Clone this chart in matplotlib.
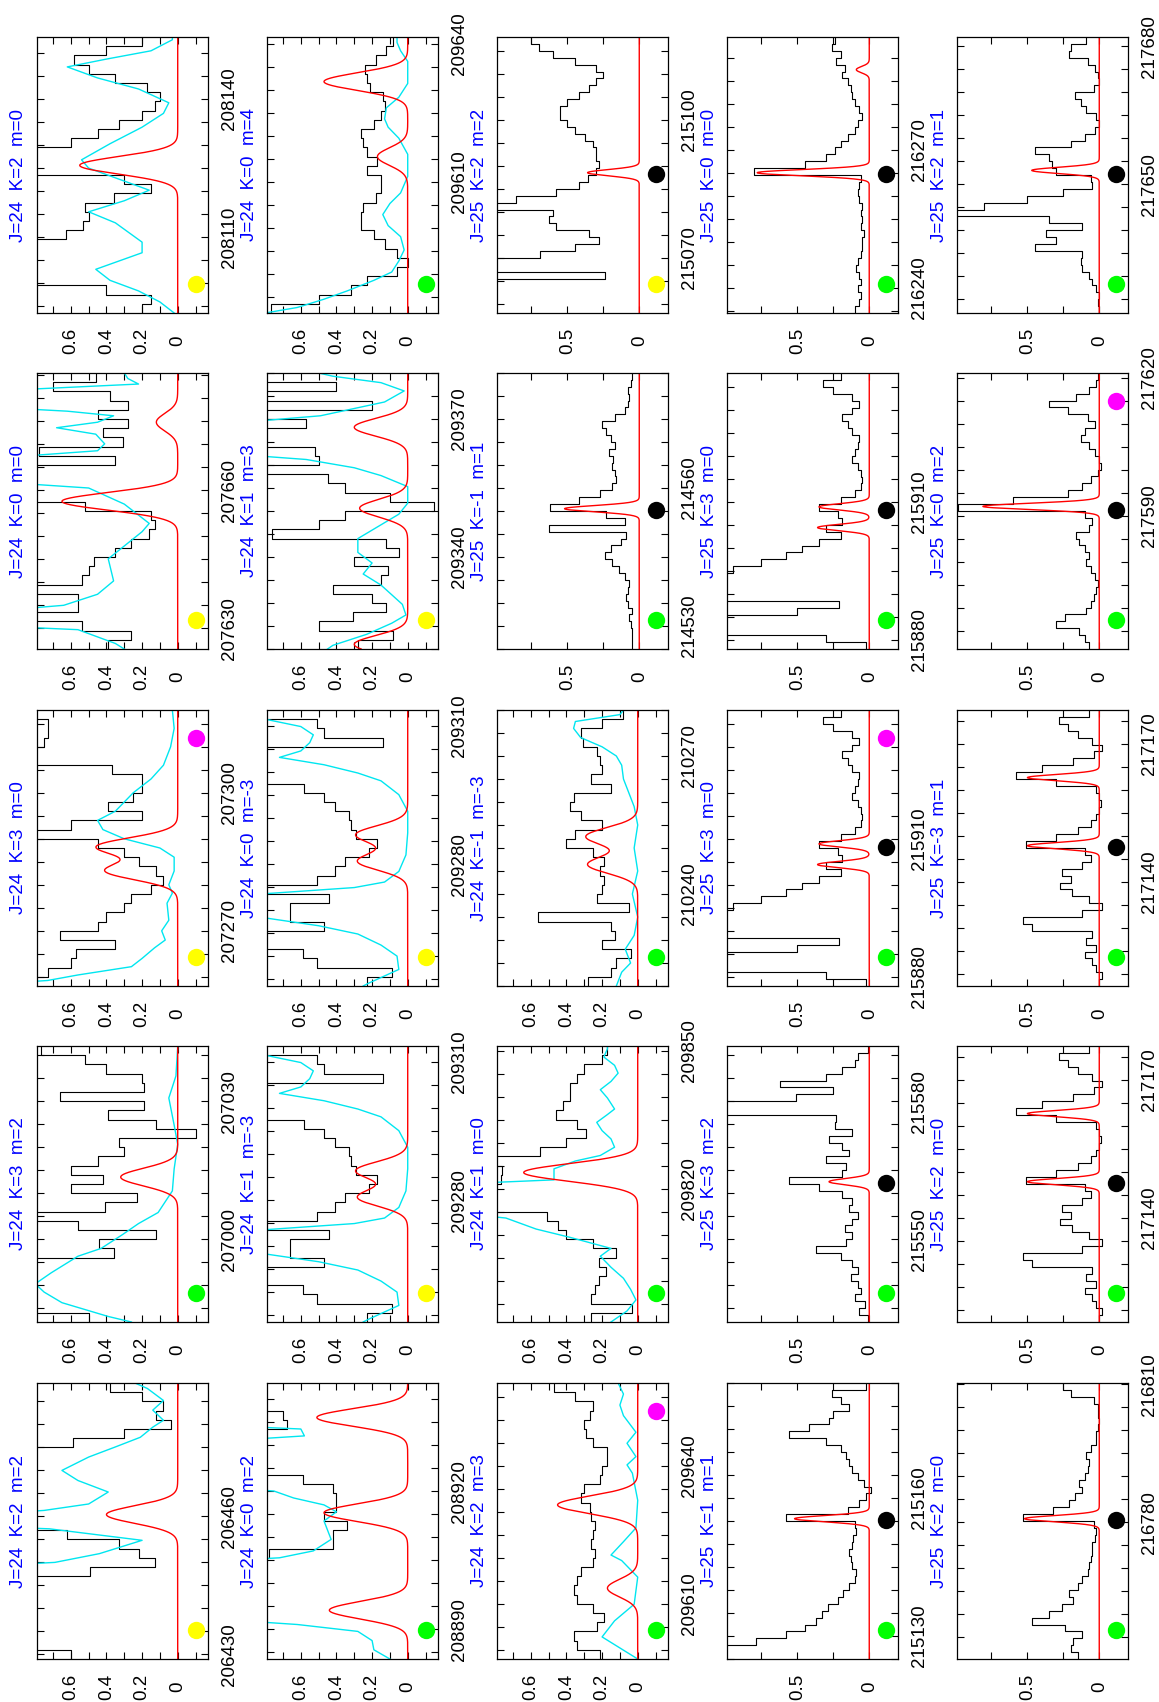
import numpy as np
import matplotlib
matplotlib.use('Agg')
import matplotlib.pyplot as plt
from matplotlib import font_manager
from matplotlib.ticker import FixedLocator, FuncFormatter

_have = {f.name for f in font_manager.fontManager.ttflist}
if 'Liberation Sans Narrow' in _have:
    FONT, FS = 'Liberation Sans Narrow', 16.5
else:
    FONT, FS = 'Liberation Sans', 13.5
plt.rcParams['font.family'] = FONT

# ---------------- spectra: offsets are MHz from the panel centre ----------------
# J=24 black spectra: 2 MHz channels from -30 to +30; J=25: 1.5 MHz channels
t11 = 'J=24  K=2  m=2'
fc11 = 206459.0
blk11 = [0.6, 1.2, 1.2, 1.2, 1.2, 1.2, 1.2, 1.2, 1.2, 0.49, 0.13, 0.22, 0.33, 0.62, 1.2,
         1.2, 1.2, 1.2, 1.2, 1.2, 1.2, 1.2, 1.2, 0.59, 0.30, 0.04, 0.12, 0.08, 0.2, 0.38]
cyo11 = [-30, -10.0, -9.0, -7.1, -4.2, -1.7, -1.0, 1.2, 2.3, 3.7, 6.3, 8.8, 11.0, 13.9, 16.1,
         18.2, 20.4, 21.9, 24.1, 26.2, 28.8, 30.0]
cyv11 = [1.2, 1.2, 0.69, 0.44, 0.20, 0.72, 1.2, 1.2, 0.75, 0.50, 0.39, 0.56, 0.65, 0.50, 0.35,
         0.21, 0.14, 0.08, 0.14, 0.08, 0.17, 0.24]
red11 = [(1.4, 0.40)]
mk11 = [(-23.6, 'yellow')]

t12 = 'J=24  K=3  m=2'
fc12 = 207012.0
blk12 = [0.5, 1.2, 1.2, 1.2, 1.2, 1.2, 1.2, 0.36, 0.44, 0.12, 0.56, 1.2, 0.41, 0.23, 0.60,
         0.42, 0.6, 0.45, 0.30, 0.33, -0.10, 0.12, 0.39, 0.19, 0.66, 0.19, 0.2, 0.4, 0.52, 0.77]
cyo12 = [-30, -28.8, -25.8, -23.5, -21.7, -19.3, -15.7, -14.0, -11.0, -8.6, -6.2, -1.5, 3.3,
         8.6, 12.8, 18.7, 23.5, 30]
cyv12 = [0.26, 0.39, 0.65, 0.75, 0.80, 0.71, 0.56, 0.43, 0.31, 0.22, 0.11, 0.03, 0.02, 0.0,
         0.02, 0.05, 0.01, 0.0]
red12 = [(1.5, 0.32)]
mk12 = [(-23.6, 'lime')]

t13 = 'J=24  K=3  m=0'
fc13 = 207288.0
blk13 = [1.2, 0.73, 0.6, 0.57, 0.35, 0.66, 0.45, 0.4, 0.3, 0.26, 0.15, 0.08, 0.12, 0.22, 0.3,
         0.45, 1.2, 0.6, 0.2, 0.39, 0.25, 0.2, 0.2, 0.37, 1.2, 1.2, 0.75, 0.73, 0.73, 1.2]
cyo13 = [-30, -28.8, -27.6, -25.8, -24, -21.7, -20, -18, -15.7, -12, -9.8, -8, -5, -2, 0, 2, 4,
         6, 8, 10, 12, 15, 18, 22, 26, 30]
cyv13 = [1.2, 0.73, 0.56, 0.26, 0.2, 0.13, 0.07, 0.09, 0.05, 0.06, 0.03, 0.05, 0.02, 0.02, 0.1,
         0.3, 0.42, 0.45, 0.35, 0.3, 0.25, 0.15, 0.08, 0.04, 0.02, 0.03]
red13 = [(-5.0, 0.40), (0.3, 0.45)]
mk13 = [(-23.6, 'yellow'), (24.0, 'magenta')]

t14 = 'J=24  K=0  m=0'
fc14 = 207655.5
blk14 = [0.39, 0.26, 0.54, 1.2, 0.56, 0.56, 1.2, 0.54, 0.50, 0.47, 0.35, 0.26, 0.16, 0.13, 0.15,
         0.52, 1.2, 1.2, 1.2, 1.2, 0.35, 0.78, 0.31, 0.42, 0.28, 0.45, 0.28, 0.38, 0.70, 0.46]
cyo14 = [-30, -28.8, -25.8, -24.7, -22.3, -20.5, -18.1, -15.2, -10.4, -4.5, -2.7, 1.5, 5.0, 6.8,
         11.0, 13.1, 14.6, 16.7, 18.1, 19.3, 20.7, 21.7, 22.9, 25.8, 27.6, 28.8, 30]
cyv14 = [0.3, 0.35, 0.56, 1.2, 1.2, 0.64, 0.45, 0.36, 0.39, 0.2, 0.16, 0.3, 0.5, 1.2, 1.2, 0.45,
         0.41, 0.46, 0.68, 0.45, 0.36, 0.62, 1.2, 1.2, 0.22, 0.28, 0.3]
red14 = [(2.1, 0.65), (19.3, 0.12)]
mk14 = [(-23.6, 'yellow')]

t15 = 'J=24  K=2  m=0'
fc15 = 208123.5
blk15 = [0.2, 0.15, 0.4, 1.2, 1.2, 1.2, 1.2, 1.2, 0.63, 0.53, 0.5, 0.52, 0.36, 0.15, 0.3,
         1.2, 1.2, 1.2, 0.6, 0.45, 0.33, 0.2, 0.13, 0.1, 0.17, 0.35, 0.5, 0.58, 0.4, 0.2]
cyo15 = [-30, -27.6, -25.2, -22.9, -20.5, -16.9, -14.6, -10.4, -8.0, -5.6, -3.3, -0.9, 1.5, 3.3,
         6.8, 10.4, 13.4, 15.7, 18.7, 21.1, 23.5, 25.2, 27.0, 29.4, 30]
cyv15 = [0.02, 0.1, 0.22, 0.38, 0.46, 0.2, 0.2, 0.35, 0.5, 0.3, 0.16, 0.33, 0.5, 0.54, 0.38, 0.2,
         0.08, 0.05, 0.22, 0.45, 0.62, 0.4, 0.15, 0.03, 0.03]
red15 = [(2.1, 0.55)]
mk15 = [(-23.6, 'yellow')]

t21 = 'J=24  K=0  m=2'
fc21 = 208913.5
blk21 = [1.2, 1.2, 1.2, 1.2, 1.2, 1.2, 1.2, 1.2, 1.2, 1.2, 1.2, 0.78, 0.42, 0.42, 0.34,
         0.47, 0.4, 0.4, 0.42, 0.59, 1.2, 1.2, 1.2, 1.2, 1.2, 0.68, 0.7, 1.2, 1.2, 1.2]
cyo21 = [-30, -28, -26, -24, -22.5, -21, -9, -8, -6.5, -4, -2, 0, 2, 3.5, 5, 6.5, 8, 17, 18.5,
         20, 21, 30]
cyv21 = [0.1, 0.19, 0.2, 0.28, 0.62, 1.2, 1.2, 0.72, 0.53, 0.43, 0.45, 0.47, 0.4, 0.47, 0.64,
         0.75, 1.2, 1.2, 0.58, 0.6, 1.2, 1.2]
red21 = [(-19.4, 0.44), (1.8, 0.47), (22.5, 0.51)]
mk21 = [(-23.6, 'lime')]

t22 = 'J=24  K=1  m=-3'
t23 = 'J=24  K=0  m=-3'
fc22 = 209283.5
blk22 = [0.23, 0.09, 0.51, 0.59, 1.2, 1.2, 0.47, 0.66, 0.66, 0.44, 1.2, 0.51, 0.41, 0.35, 0.22,
         0.17, 0.29, 0.32, 0.33, 0.41, 0.47, 0.58, 1.2, 1.2, 1.2, 1.2, 0.14, 0.47, 0.51, 1.2]
cyo22 = [-30, -29.4, -26.4, -23.5, -21.1, -18.7, -16.9, -15.2, -14.0, -11.0, -8.6, -7.4, -5.1,
         -1.5, 3.3, 8.0, 11.6, 14.6, 16.3, 18.1, 19.7, 21.1, 22.9, 24.6, 26.4, 28.0, 29.4, 30]
cyv22 = [0.25, 0.22, 0.05, 0.06, 0.15, 0.28, 0.5, 0.8, 1.2, 1.2, 0.3, 0.13, 0.05, 0.01, 0.0, 0.0,
         0.05, 0.15, 0.28, 0.47, 0.72, 0.6, 0.55, 0.53, 0.6, 0.8, 1.2, 1.2]
red22 = [(-2.9, 0.28), (2.9, 0.29)]
mk22 = [(-23.6, 'yellow')]

t24 = 'J=24  K=1  m=3'
fc24 = 209350.0
blk24 = [0.28, 0.08, 0.5, 0.31, 0.12, 0.2, 0.42, 0.15, 0.11, 0.3, 0.05, 0.12, 0.76, 0.5, 0.35,
         -0.15, 0.1, 0.35, 0.45, 1.2, 0.5, 0.52, 1.2, 1.2, 0.57, 1.2, 0.2, 1.2, 0.4, 1.2]
cyo24 = [-30, -29.2, -26.8, -24.4, -22.6, -20.3, -16.1, -13.7, -11.3, -9.0, -6.0, -3.0, -0.7,
         1.7, 5.3, 7.7, 9.4, 11.2, 13.0, 18.4, 20.7, 23.7, 26.1, 27.9, 29.3, 30]
cyv24 = [0.45, 0.42, 0.23, 0.09, 0.01, 0.03, 0.15, 0.25, 0.2, 0.28, 0.28, 0.15, 0.05, 0.0, 0.0,
         0.15, 0.3, 0.57, 1.2, 1.2, 0.49, 0.13, 0.02, 0.15, 0.42, 0.5]
red24 = [(-29.0, 0.3), (0.6, 0.27), (18.2, 0.30)]
mk24 = [(-23.6, 'yellow')]

t25 = 'J=24  K=0  m=4'
fc25 = 209611.5
blk25 = [0.77, 0.5, 0.32, 0.23, 0.06, 0.0, 0.06, 0.13, 0.19, 0.26, 0.26, 0.25, 0.18, 0.15, 0.15,
         0.23, 0.17, 0.23, 0.25, 0.26, 0.19, 0.15, 0.13, 0.14, 0.21, 0.23, 0.24, 0.18, 0.12, 0.08]
cyo25 = [-30, -28.8, -27.0, -25.2, -22.9, -21.1, -18.7, -16.3, -13.4, -11.0, -8.6, -6.2, -3.9,
         -0.3, 4.5, 8.0, 10.4, 12.2, 14.6, 16.9, 19.9, 24.7, 27.0, 28.8, 30]
cyv25 = [0.8, 0.62, 0.47, 0.34, 0.19, 0.09, 0.05, 0.02, 0.04, 0.11, 0.14, 0.1, 0.04, 0.0, 0.0,
         0.05, 0.11, 0.13, 0.12, 0.05, 0.0, 0.0, 0.04, 0.06, 0.06]
red25 = [(4.0, 0.17), (20.3, 0.47)]
mk25 = [(-23.6, 'lime')]

t31 = 'J=24  K=2  m=3'
fc31 = 209628.0
blk31 = [0.21, 0.34, 0.36, 0.23, 0.19, 0.25, 0.34, 0.36, 0.34, 0.32, 0.25, 0.24, 0.26, 0.25,
         0.24, 0.26, 0.27, 0.32, 0.3, 0.21, 0.2, 0.17, 0.17, 0.25, 0.29, 0.3, 0.27, 0.25, 0.35, 0.47]
cyo31 = [-30, -27.6, -25.2, -21.7, -18.1, -12.2, -8.6, -7.4, -4.5, -1.5, 4.5, 10.4, 12.2, 14.0,
         16.9, 19.3, 22.9, 25.2, 27.6, 30]
cyv31 = [0.0, 0.1, 0.2, 0.13, 0.02, 0.0, 0.09, 0.15, 0.08, 0.01, 0.0, 0.03, 0.06, 0.01, 0.06,
         0.01, 0.08, 0.1, 0.08, 0.11]
red31 = [(-14.6, 0.17), (3.5, 0.45)]
mk31 = [(-23.6, 'lime'), (24.0, 'magenta')]

t32 = 'J=24  K=1  m=0'
fc32 = 209821.0
blk32 = [0.26, 0.03, 0.26, 0.24, 0.22, 0.18, 0.22, 0.12, 0.25, 0.4, 0.45, 0.51, 1.2, 1.2, 1.2,
         0.77, 0.76, 1.2, 0.55, 0.4, 0.29, 0.34, 0.46, 0.42, 0.38, 0.38, 0.34, 0.3, 0.2, 0.17]
cyo32 = [-30, -27.6, -25.2, -22.9, -20.5, -18.1, -15.7, -14.0, -11.6, -9.8, -7.4, -5.6, -0.3,
         0.9, 3.3, 5.0, 6.2, 8.0, 9.8, 11.6, 13.4, 15.1, 16.3, 18.7, 20.5, 22.3, 24.1, 25.8,
         27.6, 29.4, 30]
cyv32 = [0.15, 0.06, 0.01, 0.04, 0.08, 0.15, 0.21, 0.15, 0.38, 0.57, 0.74, 1.2, 1.2, 0.47, 0.47,
         0.35, 0.21, 0.13, 0.15, 0.2, 0.23, 0.17, 0.13, 0.17, 0.21, 0.15, 0.11, 0.13, 0.19,
         0.17, 0.17]
red32 = [(2.5, 0.64)]
mk32 = [(-23.6, 'lime')]

t33 = 'J=24  K=-1  m=-3'
fc33 = 210250.0
blk33 = [0.28, 0.15, 0.12, 0.04, 0.2, 0.13, 0.15, 0.56, 0.05, 0.23, 0.2, 0.19, 0.21, 0.19, 0.25,
         0.4, 0.35, 0.2, 0.32, 0.38, 0.36, 0.15, 0.26, 0.2, 0.21, 0.23, 0.31, 0.32, 0.2, 0.08]
cyo33 = [-30, -27, -25, -22, -19, -15, -10, -5, 0, 5, 9, 12, 15, 18, 20, 22, 24, 26, 27.5, 29, 30]
cyv33 = [0.12, 0.09, 0.04, 0.07, 0.02, 0.0, 0.03, 0.0, 0.02, 0.0, 0.02, 0.05, 0.08, 0.09, 0.12,
         0.2, 0.32, 0.36, 0.35, 0.1, 0.08]
red33 = [(-3.6, 0.28), (2.5, 0.29)]
mk33 = [(-23.6, 'lime')]

t34 = 'J=25  K=-1  m=1'
fc34 = 214555.0
blk34 = [0.05, 0.05, 0.05, 0.06, 0.07, 0.05, 0.08, 0.09, 0.08, 0.07, 0.1, 0.14, 0.19, 0.24,
         0.2, 0.13, 0.09, 0.63, 0.1, 0.23, 0.62, 0.42, 0.27, 0.19, 0.16, 0.17, 0.19, 0.18, 0.21,
         0.17, 0.2, 0.23, 0.26, 0.17, 0.1, 0.08, 0.07, 0.08, 0.06, 0.05]
red34 = [(0.5, 0.52)]
mk34 = [(-23.6, 'lime'), (0.3, 'black')]

t35 = 'J=25  K=2  m=2'
fc35 = 215088.0
blk35 = [1.2, 1.2, 1.2, 1.2, 1.2, 0.24, 1.2, 1.2, 0.69, 0.45, 0.28, 0.35, 0.58, 0.63, 0.6,
         1.2, 0.86, 0.58, 0.42, 0.36, 0.3, 0.28, 0.3, 0.3, 0.32, 0.38, 0.45, 0.5, 0.55, 0.55,
         0.5, 0.42, 0.35, 0.3, 0.25, 0.3, 0.45, 0.6, 0.7, 0.75]
red35 = [(0.5, 0.36)]
mk35 = [(-23.6, 'yellow'), (0.3, 'black')]

t41 = 'J=25  K=1  m=1'
fc41 = 215155.0
blk41 = [1.2, 1.2, 0.79, 0.58, 0.45, 0.37, 0.33, 0.29, 0.22, 0.18, 0.14, 0.1, 0.09, 0.12, 0.13,
         0.14, 0.12, 0.11, 0.09, 0.1, 0.58, 0.15, 0.07, 0.02, -0.01, 0.04, 0.08, 0.12, 0.14,
         0.16, 0.2, 0.3, 0.56, 0.42, 0.28, 0.25, 0.14, 0.2, 0.26, 0.02]
red41 = [(0.5, 0.52)]
mk41 = [(-23.6, 'lime'), (0.3, 'black')]

t42 = 'J=25  K=3  m=2'
fc42 = 215562.0
blk42 = [0.01, 0.07, 0.03, 0.1, 0.06, 0.08, 0.13, 0.08, 0.12, 0.2, 0.37, 0.16, 0.12, 0.17,
         0.12, 0.08, 0.14, 0.12, 0.19, 0.35, 0.56, 0.19, 0.16, 0.3, 0.14, 0.19, 0.28, 0.12, 0.24,
         0.23, 1.2, 1.2, 0.51, 0.25, 0.62, 0.3, 0.19, 0.1, 0.08, 0.01]
red42 = [(0.5, 0.28)]
mk42 = [(-23.6, 'lime'), (0.3, 'black')]

t43 = 'J=25  K=3  m=0'
fc43 = 215908.0
blk43 = [0.02, 0.3, 1.2, 1.2, 1.2, 0.5, 0.21, 1.2, 1.2, 1.2, 1.2, 0.95, 0.75, 0.58, 0.47, 0.35,
         0.2, 0.3, 0.19, 0.22, 0.35, 0.2, 0.1, 0.06, 0.05, 0.06, 0.08, 0.12, 0.1, 0.08, 0.07,
         0.12, 0.15, 0.19, 0.12, 0.07, 0.12, 0.25, 0.32, 0.2]
red43 = [(-3.6, 0.36), (0.9, 0.35)]
mk43 = [(-23.6, 'lime'), (0.3, 'black'), (24.0, 'magenta')]
mk44 = [(-23.6, 'lime'), (0.3, 'black')]

t45 = 'J=25  K=0  m=0'
fc45 = 216264.5
blk45 = [0.1, 0.07, 0.06, 0.08, 0.06, 0.07, 0.09, 0.08, 0.06, 0.05, 0.05, 0.04, 0.06, 0.05,
         0.06, 0.05, 0.07, 0.08, 0.07, 0.06, 0.8, 0.45, 0.3, 0.24, 0.2, 0.15, 0.1, 0.08, 0.05,
         0.07, 0.1, 0.12, 0.13, 0.15, 0.19, 0.17, 0.23, 0.2, 0.26, 0.24]
red45 = [(0.5, 0.78), (22.9, 0.09)]
mk45 = [(-23.6, 'lime'), (0.3, 'black')]

t51 = 'J=25  K=2  m=0'
fc51 = 216780.3
blk51 = [0.15, 0.2, 0.18, 0.12, 0.24, 0.47, 0.35, 0.26, 0.18, 0.21, 0.15, 0.12, 0.08, 0.07,
         0.06, 0.05, 0.05, 0.03, 0.02, 0.04, 0.53, 0.32, 0.21, 0.17, 0.12, 0.14, 0.1, 0.08, 0.07,
         0.09, 0.06, 0.02, 0.02, 0.01, 0.0, 0.01, 0.01, 0.04, 0.2, 0.25]
red51 = [(0.5, 0.52)]
mk51 = [(-23.6, 'lime'), (0.3, 'black')]

t52 = 'J=25  K=2  m=0'
t53 = 'J=25  K=-3  m=1'
fc52 = 217147.3
blk52 = [0.0, -0.02, 0.02, 0.05, 0.1, 0.02, 0.09, 0.05, 0.47, 0.53, 0.12, -0.02, 0.07, 0.19,
         0.27, 0.2, 0.26, 0.12, 0.06, 0.1, 0.51, 0.3, 0.15, 0.06, 0.02, 0.0, -0.01, 0.0, 0.02,
         0.3, 0.58, 0.4, 0.18, 0.04, -0.02, 0.05, 0.15, 0.22, 0.28, 0.07]
red52 = [(0.5, 0.5), (15.3, 0.5)]
mk52 = [(-23.6, 'lime'), (0.3, 'black')]

t54 = 'J=25  K=0  m=2'
fc54 = 217591.0
blk54 = [0.07, 0.1, 0.14, 0.3, 0.24, 0.09, 0.06, 0.04, 0.02, 0.01, 0.03, 0.06, 0.09, 0.07, 0.1,
         0.14, 0.16, 0.07, 0.05, 0.1, 0.98, 0.6, 0.22, 0.12, 0.06, 0.01, -0.01, 0.0, 0.03, 0.07,
         0.13, 0.1, 0.03, 0.08, 0.22, 0.35, 0.16, 0.07, 0.02, 0.01]
red54 = [(1.0, 0.81)]
mk54 = [(-23.6, 'lime'), (0.3, 'black'), (24.0, 'magenta')]

t55 = 'J=25  K=2  m=1'
fc55 = 217652.0
blk55 = [0.0, 0.01, 0.0, 0.02, 0.05, 0.07, 0.12, 0.13, 0.12, 0.45, 0.3, 0.37, 0.12, 0.35, 1.2,
         0.8, 0.5, 0.25, 0.05, 0.06, 0.3, 0.33, 0.35, 0.45, 0.2, 0.1, 0.03, 0.0, 0.02, 0.09,
         0.13, 0.17, 0.04, 0.0, 0.01, 0.03, 0.08, 0.21, 0.2, 0.09]
red55 = [(1.0, 0.47)]
mk55 = [(-23.6, 'lime'), (0.3, 'black')]

# (display column, display row from top, title, centre, J=25?, black, cyan offs, cyan, red, markers)
panels = [
    (0, 4, t11, fc11, False, blk11, cyo11, cyv11, red11, mk11),
    (0, 3, t12, fc12, False, blk12, cyo12, cyv12, red12, mk12),
    (0, 2, t13, fc13, False, blk13, cyo13, cyv13, red13, mk13),
    (0, 1, t14, fc14, False, blk14, cyo14, cyv14, red14, mk14),
    (0, 0, t15, fc15, False, blk15, cyo15, cyv15, red15, mk15),
    (1, 4, t21, fc21, False, blk21, cyo21, cyv21, red21, mk21),
    (1, 3, t22, fc22, False, blk22, cyo22, cyv22, red22, mk22),
    (1, 2, t23, fc22, False, blk22, cyo22, cyv22, red22, mk22),
    (1, 1, t24, fc24, False, blk24, cyo24, cyv24, red24, mk24),
    (1, 0, t25, fc25, False, blk25, cyo25, cyv25, red25, mk25),
    (2, 4, t31, fc31, False, blk31, cyo31, cyv31, red31, mk31),
    (2, 3, t32, fc32, False, blk32, cyo32, cyv32, red32, mk32),
    (2, 2, t33, fc33, False, blk33, cyo33, cyv33, red33, mk33),
    (2, 1, t34, fc34, True, blk34, None, None, red34, mk34),
    (2, 0, t35, fc35, True, blk35, None, None, red35, mk35),
    (3, 4, t41, fc41, True, blk41, None, None, red41, mk41),
    (3, 3, t42, fc42, True, blk42, None, None, red42, mk42),
    (3, 2, t43, fc43, True, blk43, None, None, red43, mk43),
    (3, 1, t43, fc43, True, blk43, None, None, red43, mk44),
    (3, 0, t45, fc45, True, blk45, None, None, red45, mk45),
    (4, 4, t51, fc51, True, blk51, None, None, red51, mk51),
    (4, 3, t52, fc52, True, blk52, None, None, red52, mk52),
    (4, 2, t53, fc52, True, blk52, None, None, red52, mk52),
    (4, 1, t54, fc54, True, blk54, None, None, red54, mk54),
    (4, 0, t55, fc55, True, blk55, None, None, red55, mk55),
]

W, H = 1159, 1702
col_left = [37, 267, 497, 727, 957]
row_top = [37, 373, 710, 1046, 1383]
pw, ph = 171, 276
HALF = 30.0

fig = plt.figure(figsize=(W / 100, H / 100), dpi=100)
fig.patch.set_facecolor('white')

freq_fmt = FuncFormatter(lambda v, p: '%d' % round(v))
int_fmt = FuncFormatter(lambda v, p: '0' if abs(v) < 1e-9 else '%g' % v)

for dcol, drow, title, fc, j25, blk, cyo, cyv, red, marks in panels:
    ax = fig.add_axes([col_left[dcol] / W, 1 - (row_top[drow] + ph) / H, pw / W, ph / H])
    lo, hi = fc - HALF, fc + HALF

    # observed spectrum as a histogram along the frequency axis
    vals = np.asarray(blk, float)
    edges = np.linspace(lo, hi, len(vals) + 1)
    ax.plot(np.repeat(vals, 2), np.repeat(edges, 2)[1:-1], color='black', lw=0.8)

    if cyo is not None:
        ax.plot(cyv, fc + np.asarray(cyo), color='#00e6f0', lw=1.0)

    f = np.linspace(lo, hi, 1201)
    fwhm = 1.6 if j25 else 4.5
    model = np.zeros_like(f)
    for off, amp in red:
        model += amp * np.exp(-4 * np.log(2) * (f - fc - off) ** 2 / fwhm ** 2)
    ax.plot(model, f, color='red', lw=1.0)

    xm = -0.115 if j25 else -0.1
    for off, c in marks:
        ax.plot(xm, fc + off, 'o', color=c, ms=12.5, mec='none', clip_on=False)

    if j25:
        ax.set_xlim(0.99, -0.2)
        ax.xaxis.set_major_locator(FixedLocator([0, 0.5]))
        ax.xaxis.set_minor_locator(FixedLocator([0.25, 0.75]))
    else:
        ax.set_xlim(0.79, -0.17)
        ax.xaxis.set_major_locator(FixedLocator([0, 0.2, 0.4, 0.6]))
        ax.xaxis.set_minor_locator(FixedLocator([-0.1, 0.1, 0.3, 0.5, 0.7]))
    ax.xaxis.set_major_formatter(int_fmt)

    ax.set_ylim(lo, hi)
    major = [v for v in np.arange(np.ceil(lo / 30) * 30, hi + 0.01, 30)]
    minor = [v for v in np.arange(np.ceil(lo / 5) * 5, hi + 0.01, 5)]
    ax.yaxis.set_major_locator(FixedLocator(major))
    ax.yaxis.set_minor_locator(FixedLocator(minor))
    ax.yaxis.set_major_formatter(freq_fmt)

    ax.tick_params(which='both', direction='in', length=5, width=0.8,
                   top=True, bottom=True, left=True, right=True,
                   labelleft=False, labelright=True, labelsize=FS)
    ax.tick_params(axis='x', labelrotation=90, pad=20)
    ax.tick_params(axis='y', labelrotation=90, pad=15.5)
    for lab in ax.get_xticklabels():
        lab.set_va('center')
    for lab in ax.get_yticklabels():
        lab.set_ha('center')
        lab.set_va('center')
    for sp in ax.spines.values():
        sp.set_linewidth(0.9)

    ax.text(-18 / pw, 0.5, title, transform=ax.transAxes, rotation=90,
            ha='center', va='center', color='blue', fontsize=FS)

fig.savefig('out.png', dpi=100, facecolor='white')
